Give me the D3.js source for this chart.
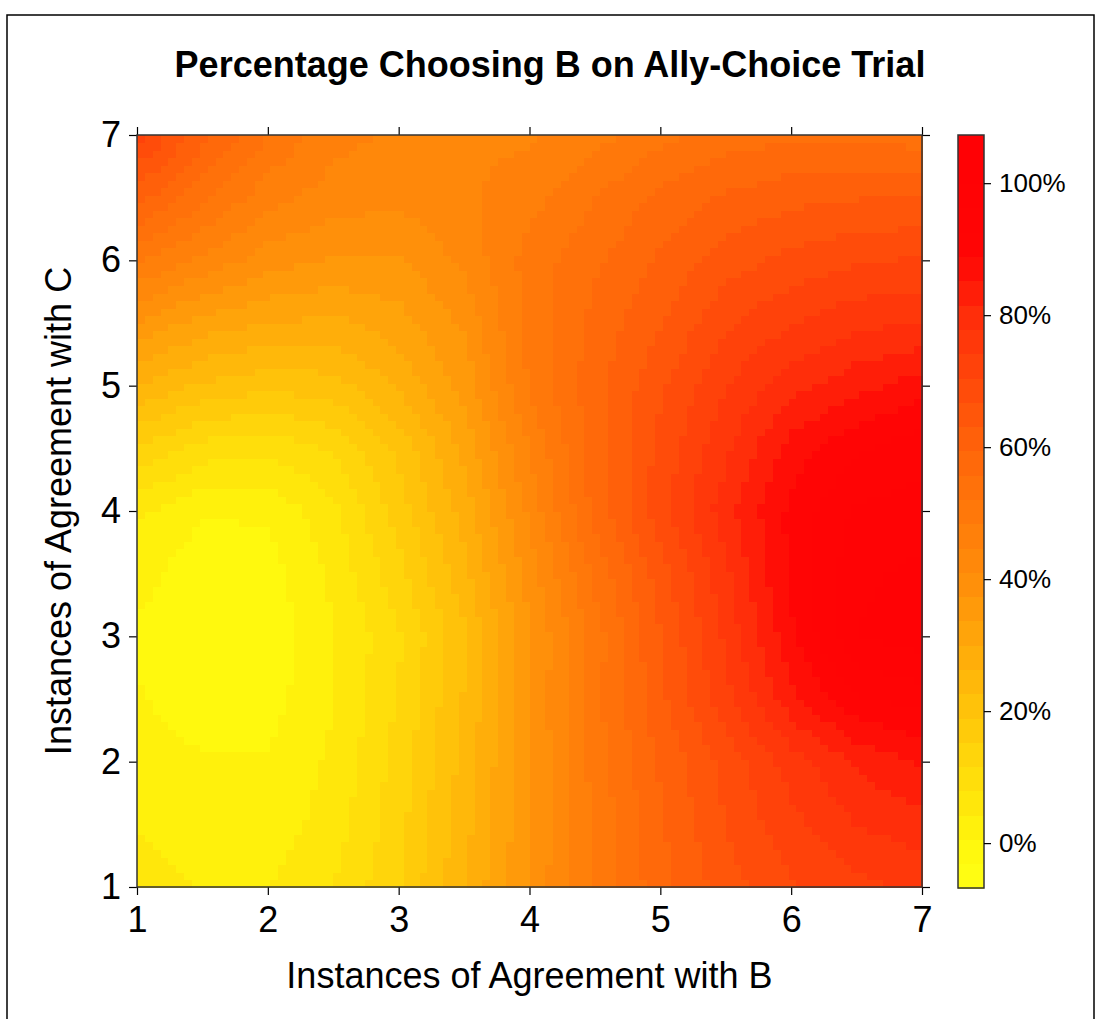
<!DOCTYPE html>
<html>
<head>
<meta charset="utf-8">
<script src="https://cdn.jsdelivr.net/npm/d3@7"></script>
<style>
  body { margin: 0; background: #fff; }
  svg { display: block; }
  text { font-family: Arial, "Liberation Sans", sans-serif; fill: #000; }
</style>
</head>
<body>
<svg width="1100" height="1019"></svg>
<script>
/* global d3 */

// grid positions the surface was read at (every half step)
const xSteps = [1, 1.5, 2, 2.5, 3, 3.5, 4, 4.5, 5, 5.5, 6, 6.5, 7]
const ySteps = [7, 6.5, 6, 5.5, 5, 4.5, 4, 3.5, 3, 2.5, 2, 1.5, 1]

// percentage choosing B, one row per level of agreement with C (top row = 7)
const rowC70 = [72, 61, 52, 46, 44, 44, 44, 47, 51, 54, 55, 55, 54]
const rowC65 = [61, 53, 46, 43, 42, 44, 47, 52, 57, 60, 62, 63, 63]
const rowC60 = [49, 44, 39, 37, 37, 42, 50, 55, 60, 65, 68, 70, 71]
const rowC55 = [37, 32, 30, 29, 32, 38, 50, 57, 63, 70, 74, 77, 78]
const rowC50 = [26, 22, 20, 21, 27, 35, 49, 58, 66, 74, 80, 84, 87]
const rowC45 = [15, 10, 9, 12, 20, 31, 45, 58, 68, 77, 87, 92, 95]
const rowC40 = [5, 1, 1, 7, 17, 28, 42, 57, 69, 80, 90, 97, 98]
const rowC35 = [2, -2, -1, 5, 14, 25, 39, 53, 65, 77, 90, 99, 101]
const rowC30 = [0, -3, -2, 4, 11, 22, 37, 50, 63, 75, 88, 100, 102]
const rowC25 = [1, -2, -1, 4, 12, 23, 37, 51, 62, 73, 84, 92, 94]
const rowC20 = [3, 1, 1, 5, 13, 24, 37, 50, 60, 68, 76, 82, 86]
const rowC15 = [4, 2, 2, 6, 14, 25, 37, 49, 59, 67, 73, 78, 80]
const rowC10 = [6, 4, 4, 8, 15, 26, 38, 49, 58, 65, 70, 73, 75]

const axisTicks = [1, 2, 3, 4, 5, 6, 7]
const legendTicks = [0, 20, 40, 60, 80, 100]
const legendRange = [-6.8, 107.3]
const legendBands = 31

const titleText = 'Percentage Choosing B on Ally-Choice Trial'
const xTitle = 'Instances of Agreement with B'
const yTitle = 'Instances of Agreement with C'

const grid = [rowC70, rowC65, rowC60, rowC55, rowC50, rowC45, rowC40,
  rowC35, rowC30, rowC25, rowC20, rowC15, rowC10]

const svg = d3.select('svg')

const plot = { left: 137, right: 922, top: 135, bottom: 887 }
const bar = { left: 958, right: 984, top: 135, bottom: 888 }

const xScale = d3.scaleLinear().domain([1, 7]).range([plot.left, plot.right])
const yScale = d3.scaleLinear().domain([1, 7]).range([plot.bottom, plot.top])

// colour ramp yellow -> orange -> red, cut into discrete bands like the legend
const ramp = d3.scaleLinear()
  .domain([-6.8, 0, 20, 40, 60, 80, 89, 107.3])
  .range(['#ffff14', '#fff70c', '#ffc40a', '#ff8e0a', '#ff640a', '#ff2d0a', '#ff0505', '#ff0005'])
  .clamp(true)
const bandStep = (legendRange[1] - legendRange[0]) / legendBands
const bandColors = d3.range(legendBands).map(i => ramp(legendRange[0] + (i + 0.5) * bandStep))
const color = d3.scaleQuantize().domain(legendRange).range(bandColors)

// outer frame
svg.append('path')
  .attr('d', 'M7,1030V15H1094V1030')
  .attr('fill', 'none')
  .attr('stroke', '#000')
  .attr('stroke-width', 1.5)

svg.append('text')
  .attr('x', 550)
  .attr('y', 77)
  .attr('text-anchor', 'middle')
  .style('font-size', '36px')
  .style('font-weight', 'bold')
  .text(titleText)

// surface: fine raster sampled from the read grid
const colIndex = d3.scaleLinear().domain(d3.extent(xSteps)).range([0, xSteps.length - 1])
const rowIndex = d3.scaleLinear().domain([ySteps[0], ySteps[ySteps.length - 1]]).range([0, ySteps.length - 1])

const valueAt = (x, y) => {
  const gx = colIndex(x)
  const gy = rowIndex(y)
  const i0 = Math.min(Math.floor(gx), xSteps.length - 2)
  const j0 = Math.min(Math.floor(gy), ySteps.length - 2)
  const fx = gx - i0
  const fy = gy - j0
  const top = d3.interpolateNumber(grid[j0][i0], grid[j0][i0 + 1])(fx)
  const bottom = d3.interpolateNumber(grid[j0 + 1][i0], grid[j0 + 1][i0 + 1])(fx)
  return d3.interpolateNumber(top, bottom)(fy)
}

const nCells = 100
const cellEdges = d3.range(nCells + 1).map(k => 1 + (k * 6) / nCells)
const cells = []
for (let i = 0; i < nCells; i++) {
  for (let j = 0; j < nCells; j++) {
    const x0 = cellEdges[i]
    const x1 = cellEdges[i + 1]
    const y0 = cellEdges[j]
    const y1 = cellEdges[j + 1]
    cells.push({ x0, x1, y0, y1, v: valueAt((x0 + x1) / 2, (y0 + y1) / 2) })
  }
}

svg.append('g')
  .selectAll('rect')
  .data(cells)
  .join('rect')
  .attr('x', d => xScale(d.x0))
  .attr('y', d => yScale(d.y1))
  .attr('width', d => xScale(d.x1) - xScale(d.x0) + 0.6)
  .attr('height', d => yScale(d.y0) - yScale(d.y1) + 0.6)
  .attr('fill', d => color(d.v))
  .attr('shape-rendering', 'crispEdges')

// axes on all four sides, ticks outward
const styleAxis = (g) => {
  g.select('.domain').remove()
  g.selectAll('.tick line').attr('stroke', '#000').attr('stroke-width', 1.2)
  g.selectAll('.tick text').style('font-size', '36px').attr('font-family', null)
}

svg.append('g')
  .attr('transform', `translate(0,${plot.bottom})`)
  .call(d3.axisBottom(xScale).tickValues(axisTicks).tickSize(8).tickPadding(11).tickFormat(d3.format('d')))
  .call(styleAxis)

svg.append('g')
  .attr('transform', `translate(0,${plot.top})`)
  .call(d3.axisTop(xScale).tickValues(axisTicks).tickSize(8).tickFormat(''))
  .call(styleAxis)

svg.append('g')
  .attr('transform', `translate(${plot.left},0)`)
  .call(d3.axisLeft(yScale).tickValues(axisTicks).tickSize(8).tickPadding(8).tickFormat(d3.format('d')))
  .call(styleAxis)

svg.append('g')
  .attr('transform', `translate(${plot.right},0)`)
  .call(d3.axisRight(yScale).tickValues(axisTicks).tickSize(8).tickFormat(''))
  .call(styleAxis)

svg.append('rect')
  .attr('x', plot.left)
  .attr('y', plot.top)
  .attr('width', plot.right - plot.left)
  .attr('height', plot.bottom - plot.top)
  .attr('fill', 'none')
  .attr('stroke', '#333')
  .attr('stroke-width', 1.5)

svg.append('text')
  .attr('x', (plot.left + plot.right) / 2)
  .attr('y', 988)
  .attr('text-anchor', 'middle')
  .style('font-size', '36px')
  .text(xTitle)

svg.append('text')
  .attr('transform', `translate(71,${(plot.top + plot.bottom) / 2}) rotate(-90)`)
  .attr('text-anchor', 'middle')
  .style('font-size', '36px')
  .text(yTitle)

// colour key
const barScale = d3.scaleLinear().domain(legendRange).range([bar.bottom, bar.top])

svg.append('g')
  .selectAll('rect')
  .data(bandColors)
  .join('rect')
  .attr('x', bar.left)
  .attr('y', (d, i) => barScale(legendRange[0] + (i + 1) * bandStep))
  .attr('width', bar.right - bar.left)
  .attr('height', barScale(0) - barScale(bandStep) + 0.6)
  .attr('fill', d => d)
  .attr('shape-rendering', 'crispEdges')

svg.append('rect')
  .attr('x', bar.left)
  .attr('y', bar.top)
  .attr('width', bar.right - bar.left)
  .attr('height', bar.bottom - bar.top)
  .attr('fill', 'none')
  .attr('stroke', '#333')
  .attr('stroke-width', 1.5)

svg.append('g')
  .attr('transform', `translate(${bar.right},0)`)
  .call(d3.axisRight(barScale).tickValues(legendTicks).tickSize(7).tickPadding(8).tickFormat(d => `${d}%`))
  .call(g => {
    g.select('.domain').remove()
    g.selectAll('.tick line').attr('stroke', '#000').attr('stroke-width', 1.2)
    g.selectAll('.tick text').style('font-size', '26px').attr('font-family', null)
  })
</script>
</body>
</html>
